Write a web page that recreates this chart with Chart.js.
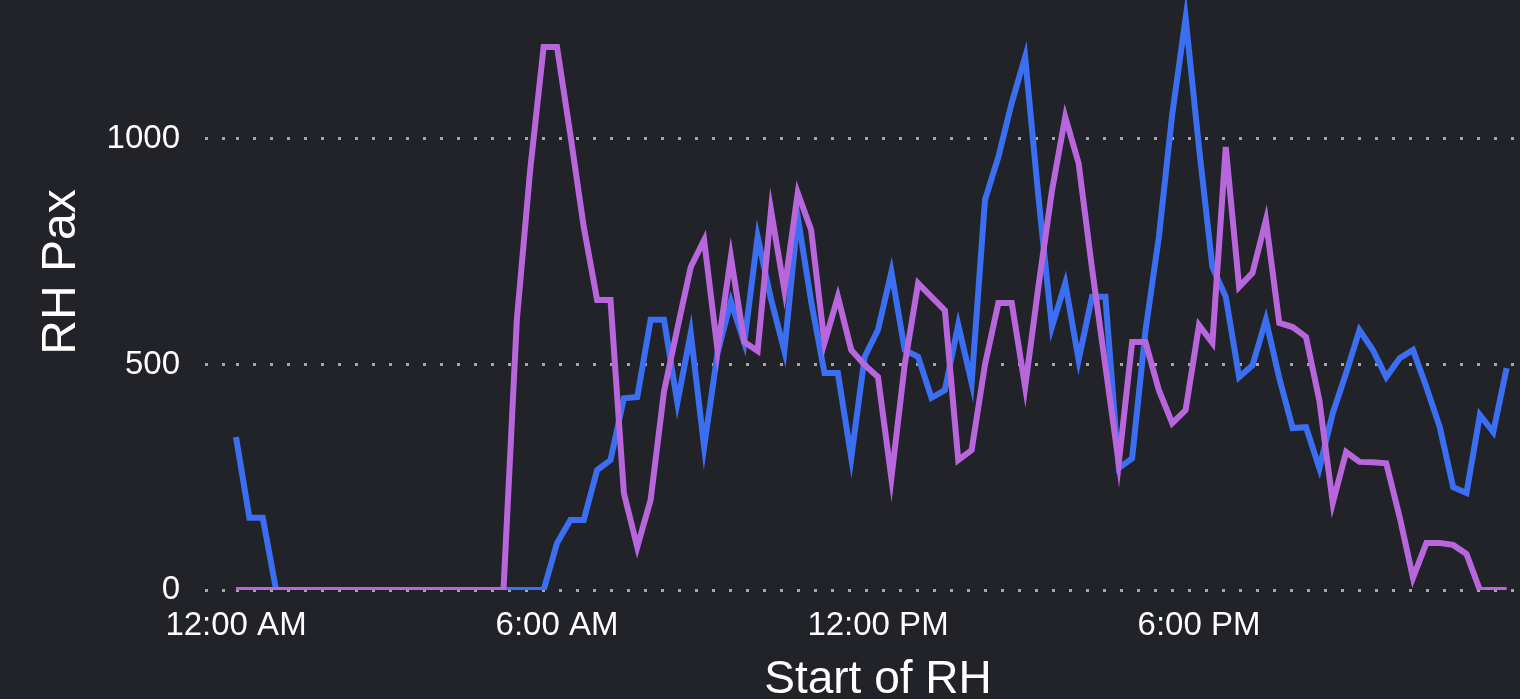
<!DOCTYPE html>
<html>
<head>
<meta charset="utf-8">
<script src="https://cdn.jsdelivr.net/npm/chart.js@4.4.1/dist/chart.umd.min.js"></script>
<style>
  html, body {
    margin: 0;
    padding: 0;
    width: 1520px;
    height: 699px;
    overflow: hidden;
    background: #212328;
  }
  /* canvas is a bit taller than the window, top part is cut off like in the original */
  #chart {
    position: absolute;
    left: 0;
    top: -46px;
  }
</style>
</head>
<body>
<canvas id="chart" width="1520" height="745"></canvas>
<script>
// quarter-hour slots, 00:00 .. 24:00 (last label has no data, it just closes the day)
const timeLabels = [];
for (let q = 0; q <= 96; q++) {
  const h = Math.floor(q / 4) % 24;
  const m = (q % 4) * 15;
  const h12 = h % 12 === 0 ? 12 : h % 12;
  timeLabels.push(h12 + ':' + String(m).padStart(2, '0') + (h < 12 ? ' AM' : ' PM'));
}

const shownTickIndexes = [0, 24, 48, 72];
const yTickValues = [0, 500, 1000];

// blue series
const bluePax = [
  339, 160, 160, 0, 0, 0, 0, 0, 0, 0, 0, 0, 0, 0, 0, 0, 0, 0, 0, 0, 0, 0, 0, 0,
  104, 155, 155, 266, 288, 425, 428, 599, 599, 415, 570, 317, 525, 640, 548, 783,
  645, 530, 827, 640, 481, 481, 293, 517, 577, 705, 532, 517, 426, 443, 588, 459,
  865, 960, 1080, 1182, 870, 583, 680, 510, 650, 650, 270, 292, 575, 783, 1055, 1268,
  981, 716, 650, 472, 498, 599, 470, 359, 361, 270, 392, 481, 576, 532, 472, 514,
  532, 450, 361, 228, 215, 388, 350, 492
];

// purple series
const purplePax = [
  0, 0, 0, 0, 0, 0, 0, 0, 0, 0, 0, 0, 0, 0, 0, 0, 0, 0, 0, 0, 0, 600, 933, 1204,
  1204, 1009, 805, 643, 643, 215, 95, 200, 440, 580, 716, 776, 532, 738, 550, 530,
  842, 665, 880, 798, 548, 650, 532, 499, 472, 248, 500, 680, 650, 620, 288, 310,
  500, 636, 636, 450, 674, 884, 1049, 946, 713, 497, 281, 550, 550, 443, 370, 399,
  587, 548, 982, 672, 703, 820, 592, 583, 561, 420, 193, 306, 284, 283, 281, 162,
  27, 104, 104, 100, 80, 0, 0, 0
];

const fontFamily = "'Liberation Sans', Arial, sans-serif";
const gridColor = 'rgba(200, 200, 200, 0.8)';

const ctx = document.getElementById('chart').getContext('2d');

new Chart(ctx, {
  type: 'line',
  data: {
    labels: timeLabels,
    datasets: [
      {
        label: 'Purple',
        data: purplePax,
        borderColor: '#b866dc',
        borderWidth: 6,
        pointRadius: 0,
        tension: 0,
        fill: false,
      },
      {
        label: 'Blue',
        data: bluePax,
        borderColor: '#3b6ef0',
        borderWidth: 6,
        pointRadius: 0,
        tension: 0,
        fill: false,
      },
    ],
  },
  options: {
    responsive: false,
    animation: false,
    devicePixelRatio: 1,
    layout: { padding: 0 },
    plugins: {
      legend: { display: false },
      tooltip: { enabled: false },
    },
    scales: {
      x: {
        type: 'category',
        offset: false,
        border: { display: false },
        grid: { display: false, drawTicks: false },
        ticks: {
          autoSkip: false,
          maxRotation: 0,
          padding: 16,
          color: '#ffffff',
          font: { family: fontFamily, size: 33 },
          callback: function (value) {
            return shownTickIndexes.includes(value) ? timeLabels[value] : null;
          },
        },
        title: {
          display: true,
          text: 'Start of RH',
          color: '#ffffff',
          font: { family: fontFamily, size: 46, lineHeight: 1 },
          padding: { top: 0, bottom: -4 },
        },
        afterFit: function (scale) {
          scale.height = 109;
        },
      },
      y: {
        min: 0,
        max: 1410,
        border: { display: false, dash: [3, 14] },
        grid: {
          color: gridColor,
          lineWidth: 3,
          drawTicks: true,
          tickLength: 31,
          tickColor: gridColor,
          tickWidth: 3,
          tickBorderDash: [3, 14],
        },
        ticks: {
          padding: 25,
          color: '#ffffff',
          font: { family: fontFamily, size: 33 },
          callback: function (value) {
            return String(value);
          },
        },
        afterBuildTicks: function (scale) {
          scale.ticks = yTickValues.map((v) => ({ value: v }));
        },
        title: {
          display: true,
          text: 'RH Pax',
          color: '#ffffff',
          font: { family: fontFamily, size: 48, lineHeight: 1.2 },
          padding: { top: 33, bottom: 0 },
        },
        afterFit: function (scale) {
          scale.width = 236;
          // no extra room above/below for the tick labels
          scale.paddingTop = 0;
          scale.paddingBottom = 0;
        },
      },
    },
  },
});
</script>
</body>
</html>
